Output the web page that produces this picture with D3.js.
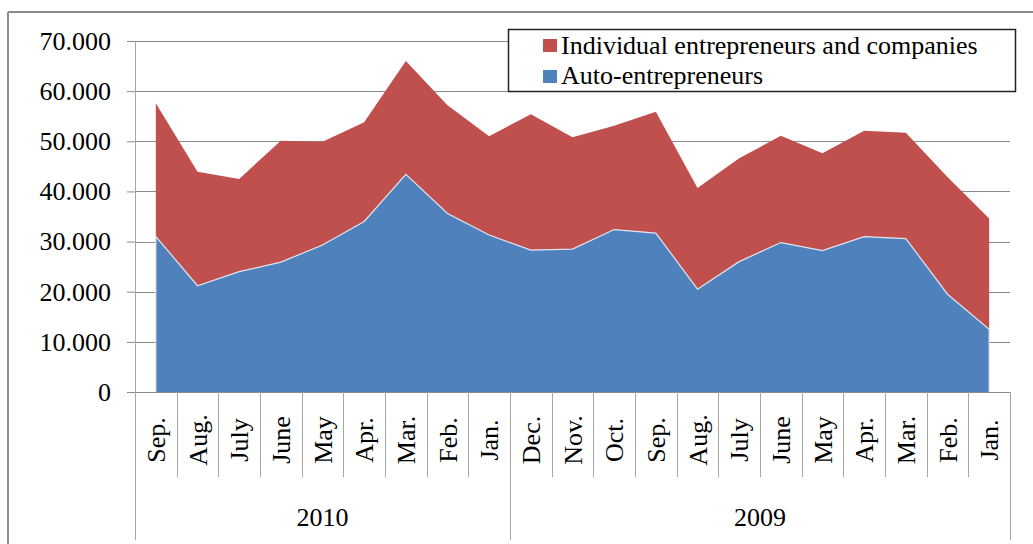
<!DOCTYPE html>
<html>
<head>
<meta charset="utf-8">
<script src="https://cdnjs.cloudflare.com/ajax/libs/d3/7.8.5/d3.min.js"></script>
<style>
  body { margin: 0; background: #fff; }
  svg { display: block; }
  text { font-family: "Liberation Serif", "Times New Roman", serif; fill: #000; }
</style>
</head>
<body>
<svg></svg>
<script>
let months = ["Sep.", "Aug.", "July", "June", "May", "Apr.", "Mar.", "Feb.", "Jan.",
              "Dec.", "Nov.", "Oct.", "Sep.", "Aug.", "July", "June", "May", "Apr.", "Mar.", "Feb.", "Jan."]
let years = ["2010", "2010", "2010", "2010", "2010", "2010", "2010", "2010", "2010",
             "2009", "2009", "2009", "2009", "2009", "2009", "2009", "2009", "2009", "2009", "2009", "2009"]
let yearGroups = ["2010", "2009"]

let autoEntrepreneurs = [31000, 21200, 24000, 25900, 29300, 34000, 43400, 35600, 31300,
                         28300, 28500, 32400, 31700, 20500, 26000, 29800, 28200, 31000, 30600, 19500, 12500]
let individualCompanies = [26600, 22700, 18500, 24200, 20600, 19800, 22600, 21600, 19700,
                           27100, 22300, 20700, 24200, 20200, 20600, 21300, 19400, 21100, 21100, 23400, 22100]

let yTicks = [0, 10000, 20000, 30000, 40000, 50000, 60000, 70000]

let seriesNames = ["Individual entrepreneurs and companies", "Auto-entrepreneurs"]
let seriesColors = ["#c0504d", "#4f81bd"]

let width = 1033
let height = 544
let plotLeft = 135, plotRight = 1010, plotTop = 41, plotBottom = 392
let serif = "Liberation Serif, Times New Roman, serif"

let svg = d3.select("svg").attr("width", width).attr("height", height).attr("font-family", serif)

let rows = months.map((m, i) => ({ i: i, auto: autoEntrepreneurs[i], indiv: individualCompanies[i] }))
let stacked = d3.stack().keys(["auto", "indiv"])(rows)

let xBand = d3.scaleBand().domain(d3.range(months.length)).range([plotLeft, plotRight]).padding(0)
let xc = i => xBand(i) + xBand.bandwidth() / 2
let y = d3.scaleLinear().domain([0, 70000]).range([plotBottom, plotTop])

let fmt = d3.formatLocale({ decimal: ",", thousands: ".", grouping: [3], currency: ["", ""] }).format(",")

// outer chart border (top and left)
svg.append("line").attr("x1", 8).attr("x2", width).attr("y1", 12).attr("y2", 12)
  .attr("stroke", "#8c8c8c").attr("stroke-width", 2)
svg.append("line").attr("x1", 8).attr("x2", 8).attr("y1", 12).attr("y2", height)
  .attr("stroke", "#8c8c8c").attr("stroke-width", 2)

// gridlines
svg.append("g").selectAll("line").data(yTicks.slice(1)).enter().append("line")
  .attr("x1", plotLeft).attr("x2", plotRight)
  .attr("y1", d => Math.round(y(d)) + 0.5).attr("y2", d => Math.round(y(d)) + 0.5)
  .attr("stroke", "#8a8a8a").attr("stroke-width", 1)

// areas
let area = d3.area().x(d => xc(d.data.i)).y0(d => y(d[0])).y1(d => y(d[1]))
svg.append("path").datum(stacked[1]).attr("d", area).attr("fill", seriesColors[0])
svg.append("path").datum(stacked[0]).attr("d", area).attr("fill", seriesColors[1])
let topLine = d3.line().x(d => xc(d.data.i)).y(d => y(d[1]))
svg.append("path").datum(stacked[0])
  .attr("d", "M" + xc(0) + "," + y(0) + "L" + topLine(stacked[0]).slice(1) + "L" + xc(months.length - 1) + "," + y(0))
  .attr("fill", "none").attr("stroke", "#dfe4ee").attr("stroke-width", 1.2)

// y axis
let yAxis = d3.axisLeft(y).tickValues(yTicks).tickFormat(fmt).tickSize(8).tickPadding(16)
let gy = svg.append("g").attr("transform", "translate(" + plotLeft + ",0)").call(yAxis)
  .attr("font-family", serif).attr("font-size", 26)
gy.select(".domain").remove()
gy.selectAll(".tick line").attr("stroke", "#8a8a8a")
gy.selectAll(".tick text").attr("fill", "#000")

// x axis line and category ticks
svg.append("line").attr("x1", plotLeft).attr("x2", plotRight).attr("y1", plotBottom + 0.5).attr("y2", plotBottom + 0.5)
  .attr("stroke", "#8a8a8a")
svg.append("g").selectAll("line").data(d3.range(1, months.length)).enter().append("line")
  .attr("x1", i => Math.round(xBand(i)) + 0.5).attr("x2", i => Math.round(xBand(i)) + 0.5)
  .attr("y1", plotBottom).attr("y2", 477)
  .attr("stroke", "#a6a6a6")

// group separators
let groupEdges = [0, years.indexOf("2009"), months.length]
svg.append("g").selectAll("line").data(groupEdges).enter().append("line")
  .attr("x1", i => Math.round(i === months.length ? plotRight : xBand(i)) + 0.5)
  .attr("x2", i => Math.round(i === months.length ? plotRight : xBand(i)) + 0.5)
  .attr("y1", i => i === 0 ? plotTop : plotBottom).attr("y2", 540)
  .attr("stroke", "#a6a6a6")

// month labels
svg.append("g").selectAll("text").data(months).enter().append("text")
  .attr("transform", (d, i) => "translate(" + xc(i) + ",440) rotate(-90)")
  .attr("text-anchor", "middle").attr("dy", "0.35em")
  .attr("font-family", serif).attr("font-size", 26).text(d => d)

// year labels
svg.append("g").selectAll("text").data(yearGroups).enter().append("text")
  .attr("x", g => {
    let a = years.indexOf(g), b = years.lastIndexOf(g)
    return (xBand(a) + xBand(b) + xBand.bandwidth()) / 2
  })
  .attr("y", 526).attr("text-anchor", "middle")
  .attr("font-family", serif).attr("font-size", 26).text(g => g)

// legend
let lg = svg.append("g")
lg.append("rect").attr("x", 508.5).attr("y", 29.5).attr("width", 507).attr("height", 62)
  .attr("fill", "#fff").attr("stroke", "#222").attr("stroke-width", 1.5)
seriesNames.forEach((name, k) => {
  lg.append("rect").attr("x", 543).attr("y", 39 + k * 31).attr("width", 14).attr("height", 13)
    .attr("fill", seriesColors[k])
  lg.append("text").attr("x", 561).attr("y", 54 + k * 30)
    .attr("font-family", serif).attr("font-size", 26).text(name)
})
</script>
</body>
</html>
